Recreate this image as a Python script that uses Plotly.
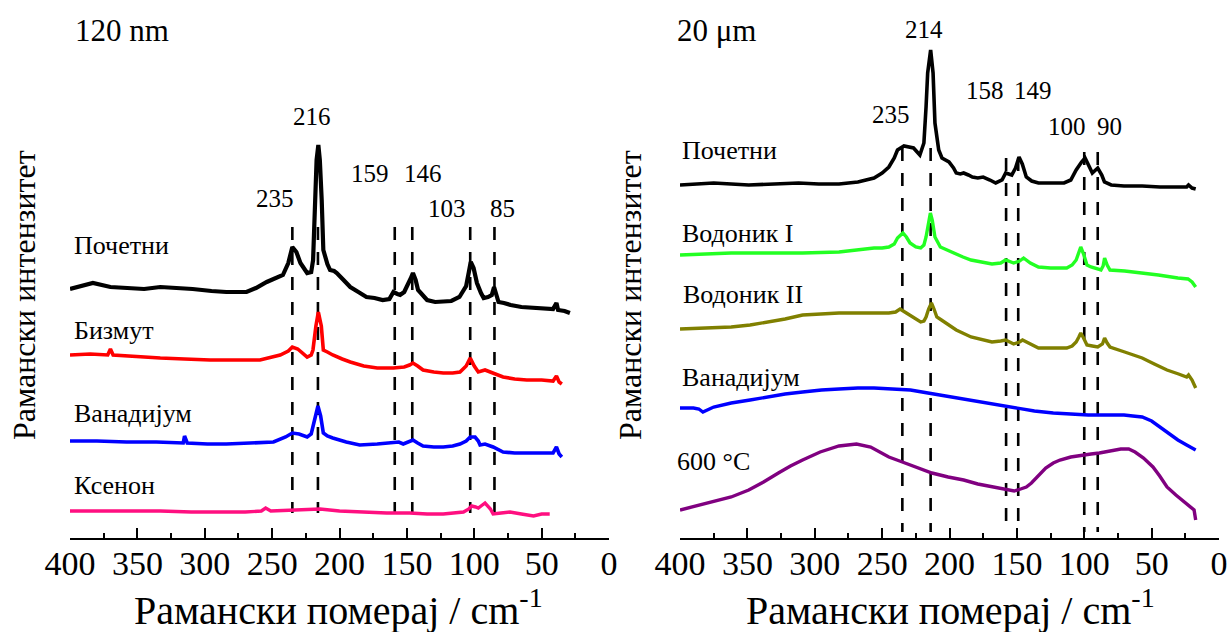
import plotly.graph_objects as go

# ---------------- data (Raman shift in cm^-1, intensity in a.u. with offsets) ----------------
# Left panel: 120 nm
L_poc_x = [400, 390, 383, 370, 358, 345, 333, 320, 309, 295, 284, 269, 262, 254, 248, 242, 238, 235, 232, 229, 224,
           221, 219.6, 218.2, 217, 215.7, 214.6, 213.2, 212, 209, 207, 204, 202, 197, 192, 186, 180, 174, 168, 163,
           160, 157, 155, 152, 150, 147, 145.5, 143.5, 141.7, 138, 135, 129, 123, 117, 111, 106, 104, 102.6, 100.5,
           98, 95, 93, 89.8, 87, 85.3, 83.5, 82, 78, 73, 65, 56, 48, 41.5, 39, 37.8, 33, 29]
L_poc_y = [249, 252, 255, 251, 250, 249, 251, 250, 249, 247, 246, 246, 250, 256, 259, 263, 275, 291, 286, 275, 265,
           266, 278, 338, 378, 393, 378, 338, 288, 274, 268, 267, 265, 258, 251, 246, 241, 240, 238, 239,
           246, 244, 243, 246, 251, 260, 265, 258, 248, 242, 238, 236, 236, 237, 241, 252, 266, 276, 270,
           255, 245, 240, 241, 243, 251, 244, 236, 235, 233, 231, 230, 230, 229, 235, 228, 227, 225]

L_bi_x = [400, 385, 372, 370, 368, 350, 333, 315, 296, 278, 259, 250, 244, 238, 235, 231, 227, 224, 221, 219.7,
          217.5, 215.7, 213.5, 212, 209, 205, 198, 192, 182, 172, 160, 152, 148, 145.5, 142, 138, 130, 123, 116,
          110.6, 106, 103, 100, 97, 92, 86, 78.6, 70, 61, 50, 41.5, 39, 37, 35]
L_bi_y = [183, 184, 183, 189, 183, 181, 180, 179, 178, 178, 178, 181, 183, 187, 191, 189, 184, 181, 183, 188,
          212, 226, 212, 188, 186, 183, 179, 176, 172, 170, 170, 171, 173, 175, 172, 168, 166, 165, 165,
          166, 172, 180, 172, 166, 168, 165, 161, 159, 158, 158, 157, 162, 156, 154]

L_v_x = [400, 380, 358, 336, 316, 315, 313, 298, 284, 266, 249, 240, 235, 230, 224, 221, 219.7, 217.5, 216, 214,
         212, 209, 205, 195, 185, 172, 160, 156, 152.7, 148, 145.5, 142, 138, 130, 123, 116, 110.6, 106, 103, 99.4,
         97, 95.7, 92, 86, 78.6, 70, 61, 50, 41.5, 39, 37, 35]
L_v_y = [97, 97, 96, 96, 95, 102, 95, 94, 94, 95, 96, 101, 105, 104, 101, 104, 111, 125, 132, 122,
         105, 102, 100, 96, 93, 94, 95, 96, 94, 96, 98, 95, 92, 91, 91, 92, 94, 97, 101, 101,
         97, 93, 94, 91, 86, 85, 85, 85, 85, 91, 84, 81]

L_xe_x = [400, 370, 333, 310, 284, 270, 258, 254.8, 251, 234.5, 214.5, 200, 185, 165, 148, 135, 123, 115, 108, 104,
          102, 99, 97, 94, 92, 88, 86, 80, 73.5, 65, 60, 56, 50, 44]
L_xe_y = [27, 27, 27, 26, 26, 26, 27, 30, 27, 28, 29, 27, 26, 25, 25, 24, 24, 25, 26, 29,
          32, 31, 30, 33, 35, 29, 24, 25, 26, 24, 23, 22, 24, 24]

# Right panel: 20 um
R_poc_x = [400, 388, 375, 362, 349, 330, 312, 297, 282, 268, 256, 250, 245, 241, 238.6, 233.8, 230, 226.7, 222,
           219, 217.4, 216.2, 214, 212.2, 210.8, 208, 205.6, 200.4, 197, 195, 192, 189.5, 186, 183, 179, 175, 170,
           165.7, 161, 158.3, 153.8, 151, 148.4, 146, 143, 139, 134, 125, 115, 110, 106, 102, 99.4, 96.5, 94,
           90, 87, 85, 80, 70.5, 57, 43.8, 30, 24, 22.6, 20, 17.3]
R_poc_y = [353, 354, 355, 354, 353, 354, 355, 354, 354, 356, 360, 365, 371, 380, 388, 392, 391, 390, 383,
           395, 431, 465, 488, 465, 415, 388, 380, 376, 370, 365, 364, 365, 363, 361, 360, 361, 358,
           355, 358, 365, 363, 370, 381, 374, 361, 357, 355, 355, 355, 358, 368, 376, 380, 372, 365,
           370, 363, 356, 353, 352, 352, 351, 351, 351, 353, 350, 349]

R_h1_x = [400, 380, 362, 335, 309, 282, 256, 250, 245, 241, 238.6, 234.6, 232, 229.3, 225, 221.4, 219, 217.4,
          215.5, 214.2, 212.8, 210.8, 206.8, 202, 197.5, 190, 184, 176, 168.5, 162, 158.3, 152.4, 148, 145, 140,
          134, 125, 113, 109, 106, 104, 102.6, 100.5, 98, 95, 92.8, 87.6, 86, 84.9, 83, 80.9, 70, 57, 45, 30.5, 23,
          20, 17.3]
R_h1_y = [283, 284, 285, 285, 285, 286, 290, 290, 291, 294, 300, 305, 301, 295, 291, 290, 293, 301,
          318, 325, 318, 301, 291, 288, 286, 281, 278, 276, 274, 275, 278, 275, 277, 280, 275,
          271, 270, 270, 273, 278, 285, 291, 284, 273, 271, 270, 268, 272, 280, 273, 268, 267, 265, 263, 260, 259,
          256, 251]

R_h2_x = [400, 380, 362, 348, 335, 322, 309, 295, 282, 265, 245, 240, 236.7, 232, 226, 221.4, 219, 217.4, 215.5,
          213.4, 211.5, 209.4, 206, 202.8, 195, 184, 176, 168.5, 162, 158.3, 152.4, 148, 145.8, 140, 134, 125, 113,
          109, 106, 104, 102.6, 100.5, 98, 94, 90, 86.5, 84.9, 83, 80.9, 70, 57, 48, 38.6, 30, 24, 22.6, 20, 17.3]
R_h2_y = [209, 210, 211, 213, 216, 219, 223, 224, 225, 225, 225, 226, 229, 225, 220, 216, 217, 221, 229,
          235, 229, 221, 218, 215, 208, 201, 198, 196, 197, 198, 194, 196, 198, 194, 190, 190, 190,
          192, 196, 201, 205, 200, 193, 192, 191, 194, 200, 195, 191, 186, 180, 174, 168, 164, 161, 163, 158, 150]

R_v_x = [400, 390, 386, 383, 375, 362, 348, 335, 322, 309, 295, 282, 268, 256, 242, 229, 216, 203, 190, 176, 163,
         150, 137, 123, 110, 97, 84, 70.5, 64, 57, 50, 43.8, 37, 30.5, 24, 17.3]
R_v_y = [130, 130, 129, 126, 131, 135, 138, 141, 144, 146, 148, 149, 150, 150, 149, 148, 145, 142, 139, 136, 133,
         130, 127, 125, 124, 123, 123, 123, 122, 121, 117, 111, 105, 98, 93, 88]

R_600_x = [400, 388, 375, 362, 349, 338, 327, 318, 309, 296, 282, 269, 258.5, 252, 245, 237, 229, 221, 213, 201,
           189.5, 179, 168.5, 162, 156.6, 152, 147.2, 143, 139.2, 134, 128.6, 123, 118, 110, 102, 95, 88.8, 80,
           72.9, 67, 62.3, 56, 49, 44, 38.6, 32, 25.2, 21, 18.5, 17.3]
R_600_y = [28, 32, 36, 41, 48, 56, 65, 72, 78, 86, 92, 94, 91, 86, 81, 77, 73, 69, 65, 61,
           58, 54, 51, 49, 48, 47, 49, 51, 55, 62, 70, 75, 78, 81, 83, 84, 85, 87,
           89, 89, 86, 80, 71, 62, 51, 43, 35, 31, 28, 18]

peaks_left = [235, 216, 159, 146, 103, 85]
peaks_right = [235, 214, 158, 149, 100, 90]

names_left = ["Почетни", "Бизмут", "Ванадијум", "Ксенон"]
names_right = ["Почетни", "Водоник I", "Водоник II", "Ванадијум", "600 °C"]

x_ticks = [400, 350, 300, 250, 200, 150, 100, 50, 0]
panel_titles = ["120 nm", "20 μm"]
x_title = "Рамански померај / cm<sup>-1</sup>"
y_title = "Рамански интензитет"

# ---------------- styles / layout constants ----------------
FONT = "Liberation Serif, Times New Roman, serif"
W, H = 1232, 632
colors_left = ["#000000", "#ff0000", "#0000ff", "#ff0f80"]
colors_right = ["#000000", "#22ff22", "#808000", "#0000ff", "#800080"]
widths_left = [4.2, 3.6, 3.6, 3.4]
widths_right = [3.6, 3.4, 3.4, 3.4, 3.4]

left_series = [(L_poc_x, L_poc_y), (L_bi_x, L_bi_y), (L_v_x, L_v_y), (L_xe_x, L_xe_y)]
right_series = [(R_poc_x, R_poc_y), (R_h1_x, R_h1_y), (R_h2_x, R_h2_y), (R_v_x, R_v_y), (R_600_x, R_600_y)]

fig = go.Figure()

# dashed peak markers (drawn top -> bottom)
DASH = "13px,12px"
dash_left = (311, 25)
dash_right_top = [390, 390, 380, 380, 386, 386]
for p in peaks_left:
    fig.add_trace(go.Scatter(x=[p, p], y=list(dash_left), mode="lines", xaxis="x", yaxis="y",
                             line=dict(color="black", width=2.6, dash=DASH), hoverinfo="skip"))
for p, t in zip(peaks_right, dash_right_top):
    fig.add_trace(go.Scatter(x=[p, p], y=[t, 6], mode="lines", xaxis="x2", yaxis="y2",
                             line=dict(color="black", width=2.6, dash=DASH), hoverinfo="skip"))

for (xs, ys), c, w, n in zip(left_series, colors_left, widths_left, names_left):
    fig.add_trace(go.Scatter(x=xs, y=ys, mode="lines", name=n, xaxis="x", yaxis="y",
                             line=dict(color=c, width=w)))
for (xs, ys), c, w, n in zip(right_series, colors_right, widths_right, names_right):
    fig.add_trace(go.Scatter(x=xs, y=ys, mode="lines", name=n, xaxis="x2", yaxis="y2",
                             line=dict(color=c, width=w)))

ann = []
# peak labels
lab_left = [(248, 339), (220.4, 421), (177.7, 364), (138.4, 364), (120, 329), (78.7, 329)]
lab_right = [(243.4, 423), (218.9, 508), (173.7, 447), (138, 447), (112.8, 411), (81.6, 411)]
for p, (lx, ly) in zip(peaks_left, lab_left):
    ann.append(dict(x=lx, y=ly, xref="x", yref="y", text=str(p), showarrow=False,
                    font=dict(family=FONT, size=25, color="black")))
for p, (lx, ly) in zip(peaks_right, lab_right):
    ann.append(dict(x=lx, y=ly, xref="x2", yref="y2", text=str(p), showarrow=False,
                    font=dict(family=FONT, size=25, color="black")))
# series labels
for n, ly in zip(names_left, [292, 207, 124, 52]):
    ann.append(dict(x=400, y=ly, xref="x", yref="y", text=n, showarrow=False, xanchor="left", xshift=2,
                    font=dict(family=FONT, size=26, color="black")))
for n, sh, ly in zip(names_right, [0, 0, 1, 0, -5], [387, 304, 243, 160, 76]):
    ann.append(dict(x=400, y=ly, xref="x2", yref="y2", text=n, showarrow=False, xanchor="left", xshift=sh,
                    font=dict(family=FONT, size=26, color="black")))
# panel titles
ann.append(dict(x=400, y=507, xref="x", yref="y", text=panel_titles[0], showarrow=False, xanchor="left",
                xshift=3, font=dict(family=FONT, size=31, color="black")))
ann.append(dict(x=400, y=507, xref="x2", yref="y2", text=panel_titles[1], showarrow=False, xanchor="left",
                xshift=-5, font=dict(family=FONT, size=31, color="black")))
# axis titles
for cx in [338 / W, 950 / W]:
    ann.append(dict(x=cx, y=1 - 607 / H, xref="paper", yref="paper", text=x_title, showarrow=False,
                    xanchor="center", yanchor="middle", font=dict(family=FONT, size=40, color="black")))
for cx in [24 / W, 630 / W]:
    ann.append(dict(x=cx, y=1 - 295 / H, xref="paper", yref="paper", text=y_title, showarrow=False,
                    textangle=-90, xanchor="center", yanchor="middle",
                    font=dict(family=FONT, size=32, color="black")))

xaxis_common = dict(range=[400, 0], tickvals=x_ticks, ticks="inside", ticklen=10, tickwidth=2,
                    tickcolor="black", showline=True, linewidth=2, linecolor="black", showgrid=False,
                    zeroline=False, automargin=False, tickfont=dict(family=FONT, size=34, color="black"),
                    ticklabelstandoff=-6,
                    minor=dict(dtick=25, ticks="inside", ticklen=5, tickwidth=1.5, tickcolor="black",
                               showgrid=False))
ydom = [1 - 538 / H, 1 - 20 / H]
yaxis_common = dict(range=[0, 518], visible=False, domain=ydom, automargin=False)

fig.update_layout(
    template="none",
    width=W, height=H, margin=dict(l=0, r=0, t=0, b=0, pad=0), autosize=False,
    paper_bgcolor="white", plot_bgcolor="white", showlegend=False,
    xaxis=dict(domain=[70 / W, 609 / W], anchor="y", **xaxis_common),
    xaxis2=dict(domain=[680 / W, 1219 / W], anchor="y2", **xaxis_common),
    yaxis=dict(anchor="x", **yaxis_common),
    yaxis2=dict(anchor="x2", **yaxis_common),
    annotations=ann,
)

fig.write_html("out.html")
